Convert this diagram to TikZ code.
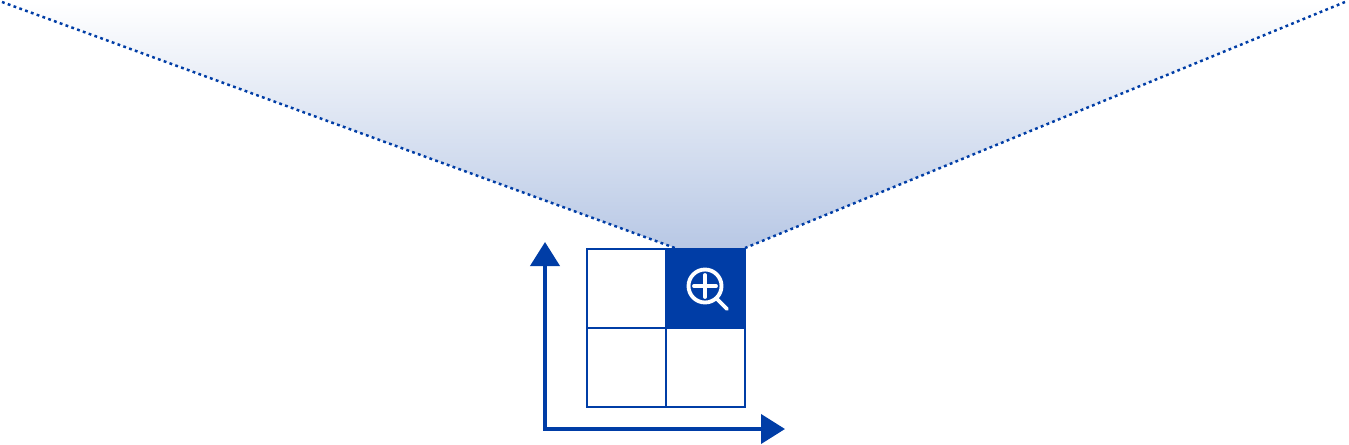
\documentclass[tikz,border=0pt]{standalone}
\usetikzlibrary{arrows.meta, positioning}

\definecolor{deepblue}{HTML}{003DA6}
\definecolor{paleblue}{HTML}{B8C8E5}

\tikzset{
	cellbox/.style = {draw = deepblue, line width = 0.7pt, minimum size = 0.79cm, inner sep = 0, outer sep = 0},
	axisline/.style = {draw = deepblue, line width = 1.15pt, {Triangle[length = 0.24cm, width = 0.29cm]}-{Triangle[length = 0.24cm, width = 0.29cm]}},
	rayline/.style = {draw = deepblue, line width = 0.7pt, dash pattern = on 0.8pt off 0.95pt},
	iconline/.style = {draw = white, line width = 1.1pt, line cap = round}
}

\begin{document}
\begin{tikzpicture}

	\useasboundingbox (0, 0) rectangle (13.49, 4.44);

	% Funnel
	
	\coordinate (rayLeftTop) at (0.02, 4.42);
	\coordinate (rayRightTop) at (13.45, 4.42);
	\coordinate (rayLeftEnd) at (6.75, 1.96);
	\coordinate (rayRightEnd) at (7.45, 1.96);
	
	\shade [top color = white, bottom color = paleblue] (rayLeftTop) -- (rayRightTop) -- (rayRightEnd) -- (rayLeftEnd) -- cycle;
	\draw [rayline] (rayLeftTop) -- (rayLeftEnd);
	\draw [rayline] (rayRightTop) -- (rayRightEnd);
	
	% Grid
	
	\node [cellbox] (cellSW) at (6.265, 0.765) {};
	\node [cellbox, right = 0 of cellSW] (cellSE) {};
	\node [cellbox, above = 0 of cellSW] (cellNW) {};
	\node [cellbox, fill = deepblue, above = 0 of cellSE] (cellNE) {};
	
	% Magnifier
	
	\coordinate (lens) at (7.05, 1.58);
	\coordinate (handleStart) at (7.17, 1.45);
	\coordinate (handleEnd) at (7.27, 1.35);
	\coordinate (plusLeft) at (6.94, 1.58);
	\coordinate (plusRight) at (7.16, 1.58);
	\coordinate (plusTop) at (7.05, 1.69);
	\coordinate (plusBottom) at (7.05, 1.47);
	
	\draw [iconline] (lens) circle (0.165);
	\draw [iconline] (handleStart) -- (handleEnd);
	\draw [iconline] (plusLeft) -- (plusRight);
	\draw [iconline] (plusTop) -- (plusBottom);
	
	% Axes
	
	\coordinate (origin) at (5.45, 0.15);
	\coordinate (axisTop) at (5.45, 2.02);
	\coordinate (axisRight) at (7.85, 0.15);
	
	\draw [axisline] (axisTop) -- (origin) -- (axisRight);

\end{tikzpicture}
\end{document}
